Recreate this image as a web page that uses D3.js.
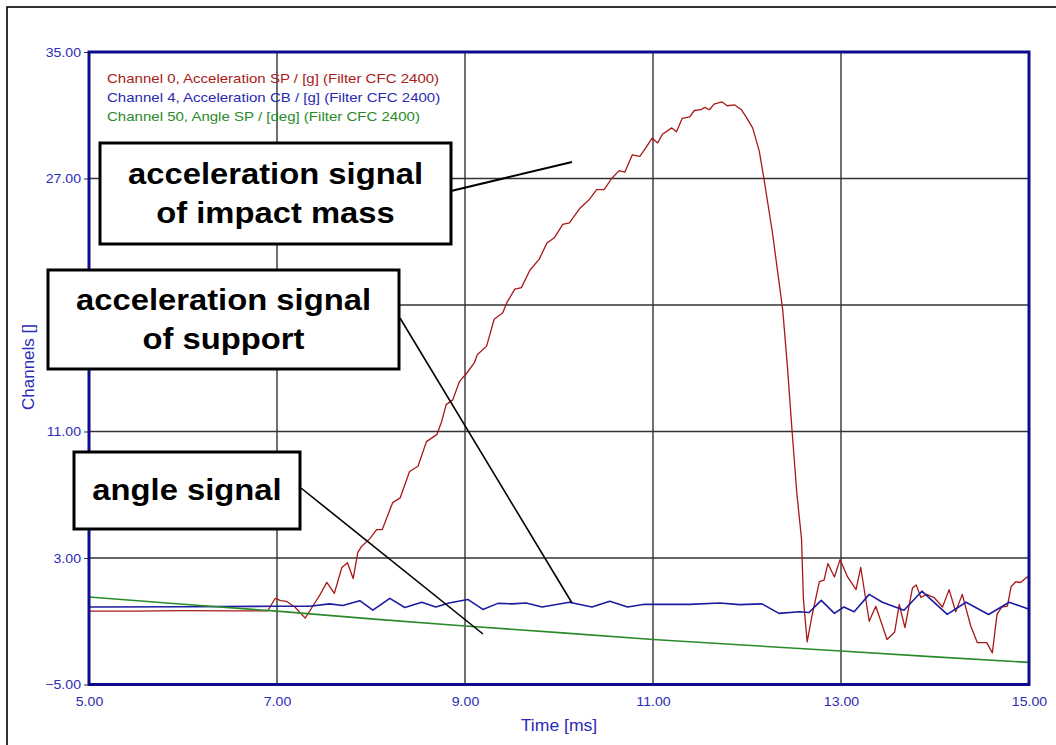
<!DOCTYPE html>
<html><head><meta charset="utf-8">
<script src="https://cdn.jsdelivr.net/npm/d3@7"></script>
<style>
html,body{margin:0;padding:0;background:#fff;}
svg{display:block;font-family:Arial,"Liberation Sans",sans-serif;}
</style></head>
<body><svg id="chart" width="1056" height="745"></svg>
<script>
// ---- data ----
const xTicks = [5, 7, 9, 11, 13, 15];
const yTicks = [-5, 3, 11, 19, 27, 35];
const yTicksHiddenLabel = [19]; // label lies behind an annotation box in the reference
const legendLabels = [
  "Channel 0, Acceleration SP / [g] (Filter CFC 2400)",
  "Channel 4, Acceleration CB / [g] (Filter CFC 2400)",
  "Channel 50, Angle SP / [deg] (Filter CFC 2400)"
];
// Channel 0 (impact mass acceleration): time [ms], value
const ch0Time = [5.0,5.5,6.0,6.5,6.9,6.98,7.04,7.10,7.19,7.30,7.38,7.45,7.53,7.61,7.69,7.75,7.81,7.86,7.90,7.99,8.06,8.12,8.23,8.31,8.41,8.50,8.59,8.70,8.75,8.80,8.87,8.94,9.02,9.10,9.13,9.23,9.31,9.40,9.45,9.53,9.60,9.69,9.79,9.87,9.95,10.04,10.11,10.22,10.32,10.40,10.48,10.56,10.64,10.70,10.78,10.86,10.93,10.99,11.05,11.10,11.20,11.25,11.31,11.39,11.44,11.51,11.55,11.60,11.65,11.73,11.79,11.87,11.94,12.00,12.06,12.13,12.18,12.27,12.38,12.43,12.48,12.53,12.58,12.60,12.64,12.69,12.77,12.82,12.86,12.93,12.99,13.07,13.16,13.21,13.30,13.37,13.49,13.57,13.62,13.68,13.76,13.80,13.85,13.91,13.99,14.08,14.15,14.22,14.29,14.38,14.45,14.55,14.61,14.66,14.71,14.77,14.81,14.86,14.91,14.98,15.0];
const ch0Value = [-0.36,-0.36,-0.33,-0.35,-0.35,0.44,0.3,0.26,-0.1,-0.8,-0.05,0.6,1.46,0.76,2.4,2.7,1.7,3.35,3.73,4.24,4.8,4.8,6.5,6.8,8.47,8.8,10.36,10.8,11.6,12.7,13.0,14.15,14.7,15.35,15.85,16.4,18.1,18.5,19.2,20.0,20.1,21.2,21.9,22.9,23.25,24.1,24.2,25.1,25.65,26.3,26.3,27.0,27.5,27.4,28.5,28.4,29.0,29.55,29.25,29.8,30.2,29.95,30.8,30.9,31.3,31.35,31.5,31.35,31.7,31.85,31.6,31.65,31.35,30.8,30.2,28.75,27.0,23.6,18.7,15.1,11.0,7.1,4.2,0.4,-2.3,-0.7,1.5,1.6,2.65,1.8,2.9,1.8,1.0,2.4,-1.0,-0.05,-2.15,-1.7,0.07,-1.4,1.1,1.3,0.5,0.7,0.5,-0.1,1.0,-0.4,0.7,-1.3,-2.35,-2.35,-3.0,-0.55,-0.1,-0.05,1.2,1.5,1.45,1.8,1.8];
// Channel 4 (support acceleration)
const ch4Time = [5.0,6.0,7.0,7.35,7.56,7.70,7.88,8.02,8.20,8.36,8.54,8.69,8.83,9.03,9.19,9.35,9.50,9.65,9.82,10.11,10.35,10.54,10.73,10.91,11.39,11.71,11.92,12.16,12.34,12.56,12.66,12.79,12.93,13.03,13.14,13.30,13.44,13.67,13.86,14.13,14.33,14.57,14.79,14.98,15.0];
const ch4Value = [-0.1,-0.08,-0.05,-0.05,0.1,0.0,0.3,-0.3,0.45,-0.13,0.2,-0.1,0.15,0.38,-0.25,0.13,0.1,0.15,-0.1,0.2,-0.1,0.26,-0.1,0.07,0.07,0.15,0.05,0.1,-0.5,-0.4,-0.45,0.32,-0.5,-0.1,-0.4,0.7,0.2,-0.3,0.9,-0.57,0.2,-0.57,0.2,-0.2,-0.22];
// Channel 50 (angle)
const ch50Time = [5,6,7,8,9,10,11,12,13,14,15];
const ch50Value = [0.53,0.08,-0.36,-0.85,-1.3,-1.72,-2.15,-2.52,-2.88,-3.25,-3.6];
const annotations = [
  {lines:["acceleration signal","of impact mass"]},
  {lines:["acceleration signal","of support"]},
  {lines:["angle signal"]}
];

// ---- layout ----
const svg = d3.select("#chart");
const L = 89, R = 1029, T = 52, B = 684.5;
const x = d3.scaleLinear().domain([5, 15]).range([L, R]);
const y = d3.scaleLinear().domain([-5, 35]).range([B, T]);
const STRETCH = 1.13;
const tickCol = "#2b2bb8";
const fmt = d3.format(".2f");

svg.append("rect").attr("x",0).attr("y",0).attr("width",1056).attr("height",745).attr("fill","#fff");
// outer frame
svg.append("rect").attr("x",7).attr("y",7).attr("width",1100).attr("height",800)
  .attr("fill","none").attr("stroke","#000").attr("stroke-width",1.6);

// grid
const gGrid = svg.append("g");
gGrid.selectAll("line.v").data(xTicks.slice(1,-1)).join("line")
  .attr("x1",d=>x(d)).attr("x2",d=>x(d)).attr("y1",T).attr("y2",B)
  .attr("stroke","#222").attr("stroke-width",1.3);
gGrid.selectAll("line.h").data(yTicks.slice(1,-1)).join("line")
  .attr("x1",L).attr("x2",R).attr("y1",d=>y(d)).attr("y2",d=>y(d))
  .attr("stroke","#333").attr("stroke-width",1.3);

// axes (labels)
const yAxis = svg.append("g").attr("transform",`translate(${L},0)`)
  .call(d3.axisLeft(y).tickValues(yTicks)
    .tickFormat(d=>yTicksHiddenLabel.includes(d) ? "" : fmt(d)).tickSize(5).tickPadding(3));
yAxis.select(".domain").remove();
yAxis.selectAll(".tick line").attr("stroke","#333").attr("stroke-width",1);
yAxis.selectAll(".tick text").attr("fill",tickCol).attr("font-size",12.5).attr("font-family","Arial, 'Liberation Sans'")
  .attr("transform",`scale(${STRETCH},1)`).attr("x",-8/STRETCH);

const xAxis = svg.append("g").attr("transform",`translate(0,${B})`)
  .call(d3.axisBottom(x).tickValues(xTicks).tickFormat(fmt).tickSize(0).tickPadding(13));
xAxis.select(".domain").remove();
xAxis.selectAll(".tick text").attr("fill",tickCol).attr("font-size",12.5).attr("font-family","Arial, 'Liberation Sans'")
  .attr("transform",`scale(${STRETCH},1)`);

// axis titles
svg.append("text").attr("transform",`translate(559,731) scale(1.1,1)`).attr("text-anchor","middle")
  .attr("font-size",16).attr("fill",tickCol).text("Time [ms]");
svg.append("text").attr("transform",`translate(34,367) rotate(-90)`).attr("text-anchor","middle")
  .attr("font-size",17).attr("fill",tickCol).text("Channels []");

// series
const line = d3.line().x(d=>x(d[0])).y(d=>y(d[1]));
const series = [
  {t:ch0Time, v:ch0Value, c:"#a81818", w:1.3},
  {t:ch4Time, v:ch4Value, c:"#1c1ca0", w:1.6},
  {t:ch50Time, v:ch50Value, c:"#2a8a2a", w:1.6}
];
const gPlot = svg.append("g");
series.forEach(s=>{
  gPlot.append("path").datum(d3.zip(s.t, s.v)).attr("d",line)
    .attr("fill","none").attr("stroke",s.c).attr("stroke-width",s.w).attr("stroke-linejoin","round");
});

// plot frame
svg.append("rect").attr("x",L).attr("y",T).attr("width",R-L).attr("height",B-T)
  .attr("fill","none").attr("stroke","#0c0c8e").attr("stroke-width",3);

// legend
const legendCols = ["#a82020","#2a2ab0","#2a8a2a"];
svg.append("g").selectAll("text").data(legendLabels).join("text")
  .attr("transform",(d,i)=>`translate(107,${83+i*19}) scale(${STRETCH},1)`)
  .attr("font-size",13.3).attr("fill",(d,i)=>legendCols[i]).text(d=>d);

// annotation boxes
const boxes = [
  {x:100,y:143,w:351,h:101, base:[184,223], lx1:451,ly1:191,lx2:572,ly2:162, lw:2},
  {x:48,y:270,w:351,h:99, base:[310,349], lx1:400,ly1:318,lx2:572,ly2:603, lw:1.6},
  {x:74,y:452,w:226,h:77, base:[500], lx1:301,ly1:488,lx2:483,ly2:634, lw:1.6}
];
const gAnn = svg.append("g");
boxes.forEach((b,i)=>{
  gAnn.append("line").attr("x1",b.lx1).attr("y1",b.ly1).attr("x2",b.lx2).attr("y2",b.ly2)
    .attr("stroke","#000").attr("stroke-width",b.lw);
  gAnn.append("rect").attr("x",b.x).attr("y",b.y).attr("width",b.w).attr("height",b.h)
    .attr("fill","#fff").attr("stroke","#000").attr("stroke-width",3);
  annotations[i].lines.forEach((t,j)=>{
    gAnn.append("text").attr("transform",`translate(${b.x+b.w/2},${b.base[j]}) scale(${STRETCH},1)`)
      .attr("text-anchor","middle").attr("font-size",29).attr("font-weight","bold").attr("fill","#000").text(t);
  });
});
</script></body></html>
